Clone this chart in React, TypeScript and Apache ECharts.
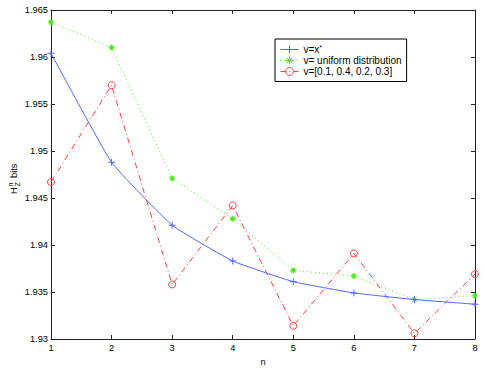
import React, { useEffect, useRef } from "react";
import * as echarts from "echarts";

const nValues = [1, 2, 3, 4, 5, 6, 7, 8];
const optimalSeries = [1.9604, 1.9488, 1.9421, 1.9383, 1.9361, 1.9349, 1.9342, 1.9337];
const uniformSeries = [1.9637, 1.9610, 1.9471, 1.9428, 1.9373, 1.9367, 1.9342, 1.9346];
const fixedSeries = [1.9467, 1.9570, 1.9358, 1.9442, 1.9314, 1.9391, 1.9306, 1.9369];
const legendNames = ["v=x*", "v= uniform distribution", "v=[0.1, 0.4, 0.2, 0.3]"];

const FONT = "'Liberation Sans', Arial, Helvetica, sans-serif";
const FS = 9.3;
const LFS = 10;
const BLUE = "#4d68ff";
const GREEN = "#4fe81f";
const RED = "#ff4040";
const AXIS = "#222";

const PLUS = "path://M0,5 L10,5 M5,0 L5,10";
const STAR = "path://M5,0 L5,10 M0,5 L10,5 M1.5,1.5 L8.5,8.5 M8.5,1.5 L1.5,8.5";

const pairs = (ys: number[]) => nValues.map((n, i) => [n, ys[i]]);

export default function App() {
  const ref = useRef<HTMLDivElement>(null);
  useEffect(() => {
    if (!ref.current) return;
    const chart = echarts.init(ref.current, undefined, { renderer: "svg" });
    const axisCommon = {
      axisLine: { show: true, onZero: false, lineStyle: { color: AXIS, width: 1 } },
      axisTick: { show: true, inside: true, length: 4, lineStyle: { color: AXIS } },
      splitLine: { show: false },
    };
    chart.setOption({
      animation: false,
      backgroundColor: "#fff",
      grid: { left: 51, right: 10, top: 10, bottom: 28, containLabel: false },
      xAxis: [
        {
          type: "value",
          min: 1,
          max: 8,
          interval: 1,
          position: "bottom",
          ...axisCommon,
          axisLabel: { color: "#000", fontSize: FS, fontFamily: FONT, margin: 4 },
          name: "n",
          nameLocation: "middle",
          nameGap: 18,
          nameTextStyle: { color: "#000", fontSize: FS, fontFamily: FONT },
        },
        {
          type: "value",
          min: 1,
          max: 8,
          interval: 1,
          position: "top",
          ...axisCommon,
          axisLabel: { show: false },
        },
      ],
      yAxis: [
        {
          type: "value",
          min: 1.93,
          max: 1.965,
          interval: 0.005,
          position: "left",
          ...axisCommon,
          axisLabel: {
            color: "#000",
            fontSize: FS,
            fontFamily: FONT,
            margin: 3,
            formatter: (v: number) => String(parseFloat(v.toFixed(3))),
          },
        },
        {
          type: "value",
          min: 1.93,
          max: 1.965,
          interval: 0.005,
          position: "right",
          ...axisCommon,
          axisLabel: { show: false },
        },
      ],
      legend: {
        orient: "vertical",
        left: 275,
        top: 39,
        padding: [5, 5, 5, 5],
        itemGap: 1,
        itemWidth: 18,
        itemHeight: 10,
        borderColor: "#000",
        borderWidth: 1,
        backgroundColor: "#fff",
        lineStyle: { width: 1 },
        itemStyle: { borderWidth: 1 },
        formatter: (name: string) => (name === legendNames[0] ? "v=x{sup|*}" : name),
        textStyle: {
          color: "#000",
          fontSize: LFS,
          fontFamily: FONT,
          rich: {
            sup: { fontSize: 7, fontFamily: FONT, color: "#000", verticalAlign: "top", padding: [0, 0, 4, 0] },
          },
        },
        data: legendNames,
      },
      graphic: [
        {
          type: "group",
          x: 14,
          y: 194,
          rotation: Math.PI / 2,
          children: [
            { type: "text", x: 0, y: 0, style: { text: "H", fontSize: FS, fontFamily: FONT, fill: "#000", verticalAlign: "middle", align: "left" } },
            { type: "text", x: 7.5, y: -3.5, style: { text: "n", fontSize: 7, fontFamily: FONT, fill: "#000", verticalAlign: "middle", align: "left" } },
            { type: "text", x: 7.5, y: 3.5, style: { text: "Z", fontSize: 7, fontFamily: FONT, fill: "#000", verticalAlign: "middle", align: "left" } },
            { type: "text", x: 16, y: 0, style: { text: "bits", fontSize: FS, fontFamily: FONT, fill: "#000", verticalAlign: "middle", align: "left" } },
          ],
        },
      ],
      series: [
        {
          name: legendNames[0],
          type: "line",
          data: pairs(optimalSeries),
          smooth: 0.12,
          symbol: PLUS,
          symbolSize: 7,
          itemStyle: { color: BLUE, borderColor: BLUE, borderWidth: 1 },
          lineStyle: { color: BLUE, width: 1, type: "solid" },
          z: 3,
        },
        {
          name: legendNames[1],
          type: "line",
          data: pairs(uniformSeries),
          symbol: STAR,
          symbolSize: 6,
          itemStyle: { color: GREEN, borderColor: GREEN, borderWidth: 1.2 },
          lineStyle: { color: GREEN, width: 1, type: [1, 3] },
          z: 2,
        },
        {
          name: legendNames[2],
          type: "line",
          data: pairs(fixedSeries),
          symbol: "circle",
          symbolSize: 7,
          itemStyle: { color: "rgba(255,255,255,0)", borderColor: RED, borderWidth: 1 },
          lineStyle: { color: RED, width: 1, type: [6, 3, 1, 3] },
          z: 2,
        },
      ],
    });
    return () => chart.dispose();
  }, []);
  return <div ref={ref} style={{ position: "fixed", left: 0, top: 0, width: 485, height: 371 }} />;
}
